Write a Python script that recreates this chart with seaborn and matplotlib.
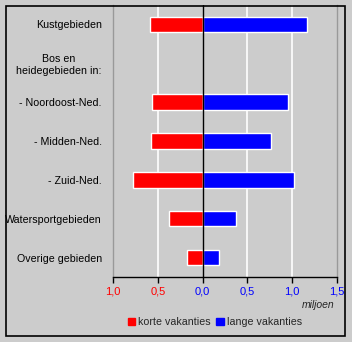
import matplotlib
matplotlib.use("Agg")
import matplotlib.pyplot as plt
import matplotlib.patches as mpatches
import seaborn as sns
import pandas as pd
import numpy as np

categories = ["Kustgebieden", "Bos en\nheidegebieden in:", "- Noordoost-Ned.",
              "- Midden-Ned.", "- Zuid-Ned.", "Watersportgebieden", "Overige gebieden"]
korte = [0.59, np.nan, 0.57, 0.58, 0.78, 0.38, 0.17]
lange = [1.16, np.nan, 0.95, 0.76, 1.02, 0.37, 0.185]
xticks = [-1.0, -0.5, 0.0, 0.5, 1.0, 1.5]
xticklabels = ["1,0", "0,5", "0,0", "0,5", "1,0", "1,5"]

df = pd.DataFrame({"gebied": categories,
                   "korte": [-v for v in korte],
                   "lange": lange})

sns.set_theme(style="white")
plt.rcParams["font.family"] = ["Liberation Sans", "DejaVu Sans"]

bg = "#cccccc"
fig = plt.figure(figsize=(3.52, 3.42), dpi=100, facecolor=bg)
ax = fig.add_axes([113/352, 1-277/342, (337-113)/352, (277-5)/342])
ax.set_facecolor(bg)

for x in [-0.5, 0.5, 1.0]:
    ax.axvline(x, color="white", lw=1.2, zorder=0)

sns.barplot(data=df, y="gebied", x="korte", order=categories, color="#ff0000",
            width=0.4, orient="h", ax=ax, saturation=1, zorder=2)
sns.barplot(data=df, y="gebied", x="lange", order=categories, color="#0000ff",
            width=0.4, orient="h", ax=ax, saturation=1, zorder=2)

ax.axvline(0, color="black", lw=1, zorder=3)
ax.set_xlim(-1.0, 1.5)
ax.set_ylim(6.5, -0.5)
ax.set_xlabel("")
ax.set_ylabel("")
ax.set_xticks(xticks)
ax.set_xticklabels(xticklabels)
for lbl, v in zip(ax.get_xticklabels(), xticks):
    lbl.set_color("#ff0000" if v < 0 else "#0000ff")
    lbl.set_fontsize(8)
ax.tick_params(axis="x", direction="out", length=4, width=1, color="black", pad=3, bottom=True)
ax.tick_params(axis="y", length=0, pad=8, labelsize=7.7)
for lbl in ax.get_yticklabels():
    lbl.set_color("black")
    lbl.set_multialignment("center")

for side in ["left", "right"]:
    ax.spines[side].set_color("#999999")
    ax.spines[side].set_linewidth(1)
ax.spines["top"].set_visible(False)
ax.spines["bottom"].set_color("black")
ax.spines["bottom"].set_linewidth(1)

fig.text(318/352, 1-305/342, "miljoen", fontsize=7.5, style="italic",
         ha="center", va="center")

handles = [mpatches.Patch(color="#ff0000", label="korte vakanties"),
           mpatches.Patch(color="#0000ff", label="lange vakanties")]
fig.legend(handles=handles, loc="center", bbox_to_anchor=(215/352, 1-322/342),
           ncol=2, frameon=False, fontsize=7.7, handlelength=0.7, handleheight=0.7,
           handletextpad=0.3, columnspacing=0.5, borderpad=0)

frame = mpatches.Rectangle((5.5/352, 1-336/342), (345-5.5)/352, (336-5.5)/342,
                           transform=fig.transFigure, fill=False, edgecolor="black",
                           lw=1.2, zorder=10)
fig.patches.append(frame)

fig.savefig("out.png", dpi=100, facecolor=bg)
